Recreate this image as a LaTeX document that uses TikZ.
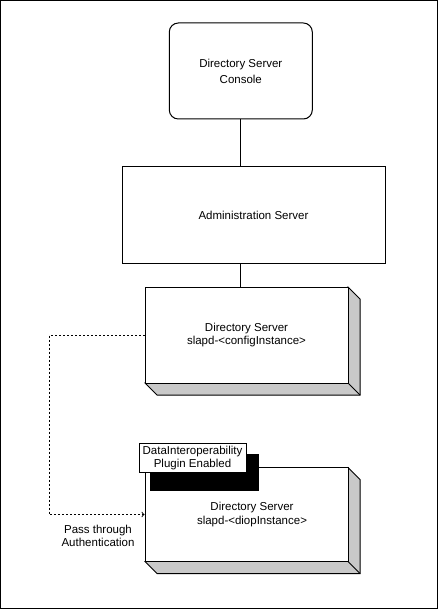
\documentclass[tikz,border=0pt]{standalone}
\usepackage{fontspec}
\setmainfont{Liberation Sans}
\usepackage{tikz}
\tikzstyle{srv} = [draw=black, line width=1pt, fill=white, align=center, font={\fontsize{11.5}{13.5}\selectfont}]
\tikzstyle{console} = [srv, rounded corners=9pt, font={\fontsize{11.5}{16}\selectfont}]
\tikzstyle{side} = [draw=black, line width=1pt, fill=black!21]
\tikzstyle{link} = [draw=black, line width=1pt]
\tikzstyle{passthru} = [link, dash pattern=on 2pt off 2pt, ->, >=to]
\tikzstyle{lbl} = [align=center, font={\fontsize{11.5}{13.5}\selectfont}]

\begin{document}
\begin{tikzpicture}[x=1pt,y=-1pt]
    \useasboundingbox (0,0) rectangle (438,609);
    \draw[line width=1pt] (0.5,0.5) rectangle (437.5,608.5);
    \node[console,minimum width=143pt,minimum height=96pt](con) at (240.8,71){Directory Server\\Console};
    \node[srv,minimum width=263pt,minimum height=96pt](adm) at (253.5,215){Administration Server};
    % config instance box with its depth
    \coordinate (cfgc) at (246.5,335);
    \draw[side] ([shift={(101.5,-48)}]cfgc) -- ++(12,12) -- ([shift={(113.5,60)}]cfgc) -- ([shift={(-89.5,60)}]cfgc) -- ([shift={(-101.5,48)}]cfgc) -- cycle;
    \draw[link] ([shift={(101.5,48)}]cfgc) -- ++(12,12);
    \node[srv,minimum width=203pt,minimum height=96pt](cfg) at (cfgc){Directory Server\\slapd-<configInstance>};
    % diop instance box with its depth
    \coordinate (dipc) at (246.5,514.5);
    \draw[side] ([shift={(101.5,-47)}]dipc) -- ++(12,12) -- ([shift={(113.5,59)}]dipc) -- ([shift={(-89.5,59)}]dipc) -- ([shift={(-101.5,47)}]dipc) -- cycle;
    \draw[link] ([shift={(101.5,47)}]dipc) -- ++(12,12);
    \node[srv,minimum width=203pt,minimum height=94pt](dip) at (dipc){};
    \node[lbl](diptxt) at (252,514.5){Directory Server\\slapd-<diopInstance>};
    \fill[black] (150,454) rectangle (259,491);
    \node[srv,minimum width=107pt,minimum height=29.5pt,inner sep=1pt](plug) at (192.5,458){DataInteroperability\\Plugin Enabled};
    \node[lbl](pass) at (98,536){Pass through\\Authentication};
    \coordinate (bend) at (49,335);
    \draw[link](con.south)--(con.south |- adm.north);
    \draw[link](adm.south -| con.south)--(cfg.north -| con.south);
    \draw[passthru](cfg.west)--(bend)|-(dip.west);
  \end{tikzpicture}
\end{document}
